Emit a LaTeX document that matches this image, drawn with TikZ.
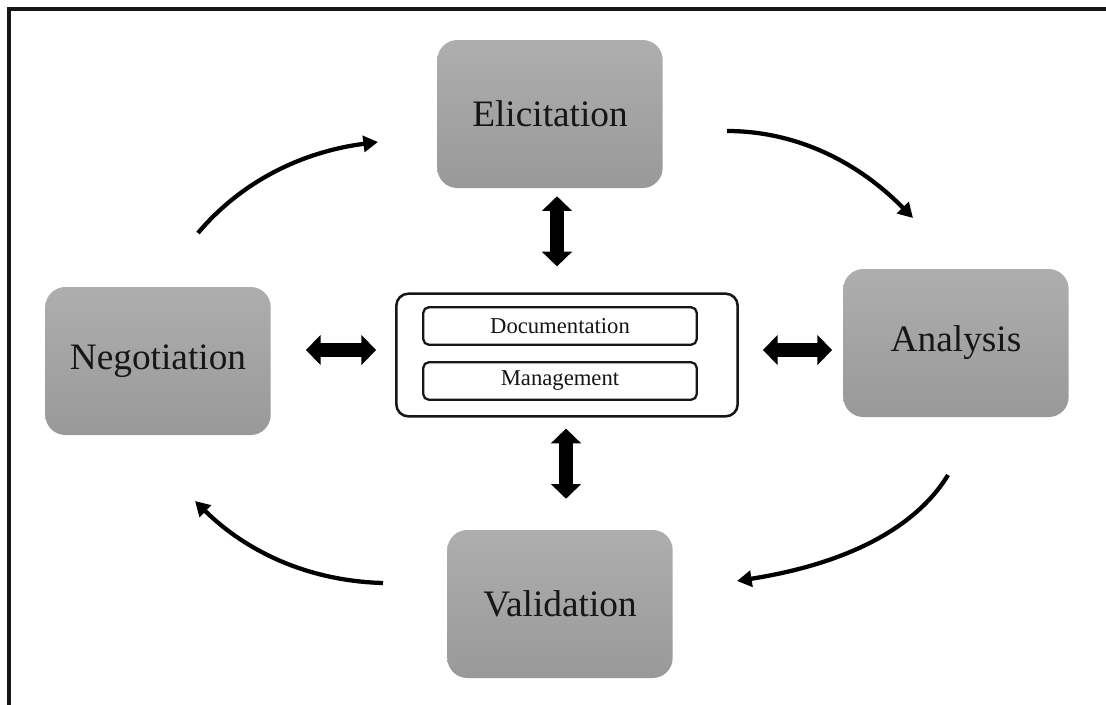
\documentclass[tikz,border=0pt]{standalone}
\usepackage{fontspec}
\setmainfont{Liberation Serif}
\usetikzlibrary{arrows.meta,calc}
\definecolor{boxtop}{HTML}{AEAEAE}
\definecolor{boxbot}{HTML}{999999}
\definecolor{ink}{HTML}{161616}
\begin{document}
\begin{tikzpicture}[x=0.75pt,y=-0.75pt,
  phase/.style={rectangle, rounded corners=15pt, top color=boxtop, bottom color=boxbot,
    draw=none, minimum width=169pt, minimum height=111pt, inner sep=0pt,
    font=\fontsize{28}{32}\selectfont, text=ink},
  core/.style={rectangle, rounded corners=9pt, draw=ink, line width=1.9pt, fill=white,
    minimum width=256pt, minimum height=92pt, inner sep=0pt},
  slot/.style={rectangle, rounded corners=4pt, draw=ink, line width=1.7pt, fill=white,
    minimum width=205pt, minimum height=28pt, inner sep=0pt,
    font=\fontsize{17}{20}\selectfont, text=ink},
  dbl/.style={draw=black, line width=10pt,
    {Triangle[width=22pt,length=11pt]}-{Triangle[width=22pt,length=11pt]}},
  flow/.style={draw=black, line width=3.2pt, -{Triangle[width=12pt,length=11pt]}}
]
\useasboundingbox (0,0) rectangle (1106,704);

% outer frame (top and left edges)
\draw[ink, line width=2.4pt] (1110,9) -- (9,9) -- (9,710);

% process phases
\node[phase] (elic) at (550,114) {Elicitation};
\node[phase] (anal) at (956,343) {Analysis};
\node[phase] (nego) at (158,361) {Negotiation};
\node[phase] (vali) at (560,604) {Validation};

% central documentation / management block
\node[core] (core) at (567,355) {};
\node[slot] (doc) at (560,326) {Documentation};
\node[slot] (mgmt) at (560,381) {Management};

% two-way links between the core and each phase
\draw[dbl] ($(elic.south)+(7,8)$) -- ($(core.north)+(-10,-26)$);
\draw[dbl] ($(core.south)+(-1,11)$) -- ($(vali.north)+(6,-31)$);
\draw[dbl] ($(nego.east)+(35,-11)$) -- ($(core.west)+(-19,-5)$);
\draw[dbl] ($(core.east)+(24,-5)$) -- ($(anal.west)+(-11,7)$);

% cycle arrows
\coordinate (c1a) at (198,233); \coordinate (c1b) at (378,142);
\coordinate (c2a) at (727,131); \coordinate (c2b) at (913,218);
\coordinate (c3a) at (948,475); \coordinate (c3b) at (737,581);
\coordinate (c4a) at (383,583); \coordinate (c4b) at (195,501);
\draw[flow] (c1a) .. controls (240,183) and (300,152) .. (c1b);
\draw[flow] (c2a) .. controls (794,131) and (856,160) .. (c2b);
\draw[flow] (c3a) .. controls (915,529) and (845,564) .. (c3b);
\draw[flow] (c4a) .. controls (310,581) and (248,553) .. (c4b);
\end{tikzpicture}
\end{document}
